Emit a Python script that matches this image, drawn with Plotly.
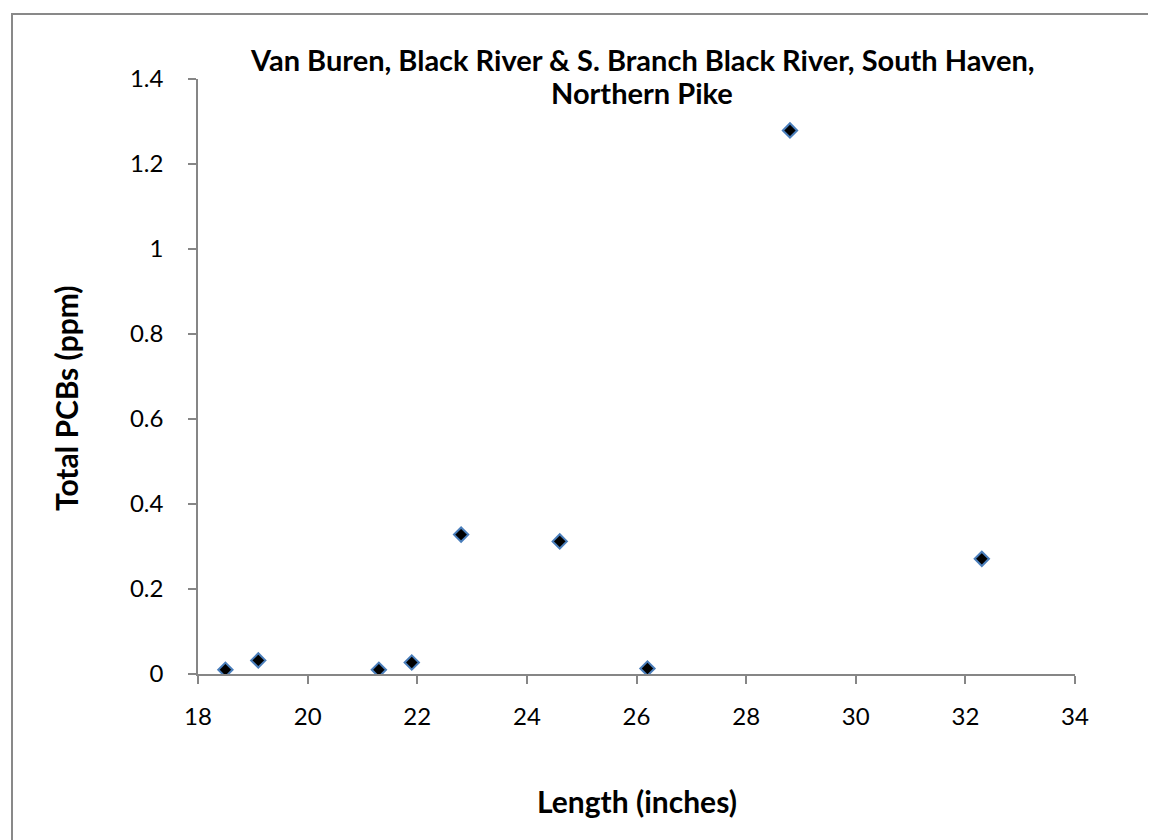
import plotly.graph_objects as go

# Data
lengths = [18.5, 19.1, 21.3, 21.9, 22.8, 24.6, 26.2, 28.8, 32.3]
pcbs = [0.010, 0.032, 0.010, 0.027, 0.328, 0.312, 0.013, 1.279, 0.271]

title_lines = ["Van Buren, Black River & S. Branch Black River, South Haven,", "Northern Pike"]
x_title = "Length (inches)"
y_title = "Total PCBs (ppm)"
x_ticks = [18, 20, 22, 24, 26, 28, 30, 32, 34]
y_ticks = [0, 0.2, 0.4, 0.6, 0.8, 1.0, 1.2, 1.4]
y_tick_labels = ["0", "0.2", "0.4", "0.6", "0.8", "1", "1.2", "1.4"]

FONT = "Lato"
AXIS_COLOR = "#868686"

W, H = 1156, 840
L, R, T, B = 190, 89, 71, 174
pw, ph = W - L - R, H - T - B


def px_x(p):
    return (p - L) / pw


def px_y(p):
    return (H - B - p) / ph


fig = go.Figure()
fig.add_trace(go.Scatter(
    x=lengths, y=pcbs, mode="markers",
    marker=dict(symbol="diamond", size=11, color="black",
                line=dict(color="#4a7ebb", width=2)),
    showlegend=False,
))

annotations = [
    dict(text="<b>" + title_lines[0] + "</b>", xref="paper", yref="paper",
         x=px_x(634), y=px_y(52), xanchor="center", yanchor="middle", showarrow=False,
         font=dict(family=FONT, size=29, color="black")),
    dict(text="<b>" + title_lines[1] + "</b>", xref="paper", yref="paper",
         x=px_x(634), y=px_y(84), xanchor="center", yanchor="middle", showarrow=False,
         font=dict(family=FONT, size=29, color="black")),
    dict(text="<b>" + x_title + "</b>", xref="paper", yref="paper",
         x=px_x(629), y=px_y(793), xanchor="center", yanchor="middle", showarrow=False,
         font=dict(family=FONT, size=30, color="black")),
    dict(text="<b>" + y_title + "</b>", xref="paper", yref="paper",
         x=px_x(58), y=px_y(390), xanchor="center", yanchor="middle", showarrow=False,
         textangle=-90, font=dict(family=FONT, size=30, color="black")),
]

fig.update_layout(
    width=W, height=H,
    margin=dict(l=L, r=R, t=T, b=B),
    paper_bgcolor="white", plot_bgcolor="white",
    font=dict(family=FONT, size=24, color="black"),
    xaxis=dict(range=[18, 34], tickvals=x_ticks, showgrid=False, zeroline=False,
               showline=True, linecolor=AXIS_COLOR, linewidth=1.5,
               ticks="outside", ticklen=8, tickcolor=AXIS_COLOR, tickwidth=1.5,
               ticklabelstandoff=12),
    yaxis=dict(range=[0, 1.4], tickvals=y_ticks, ticktext=y_tick_labels,
               showgrid=False, zeroline=False,
               showline=True, linecolor=AXIS_COLOR, linewidth=1.5,
               ticks="outside", ticklen=8, tickcolor=AXIS_COLOR, tickwidth=1.5,
               ticklabelstandoff=20),
    annotations=annotations,
    shapes=[dict(type="rect", xref="paper", yref="paper",
                 x0=px_x(4), x1=px_x(1155), y0=px_y(839), y1=px_y(6),
                 line=dict(color="#898989", width=2), layer="below")],
)

fig.write_html("out.html")
